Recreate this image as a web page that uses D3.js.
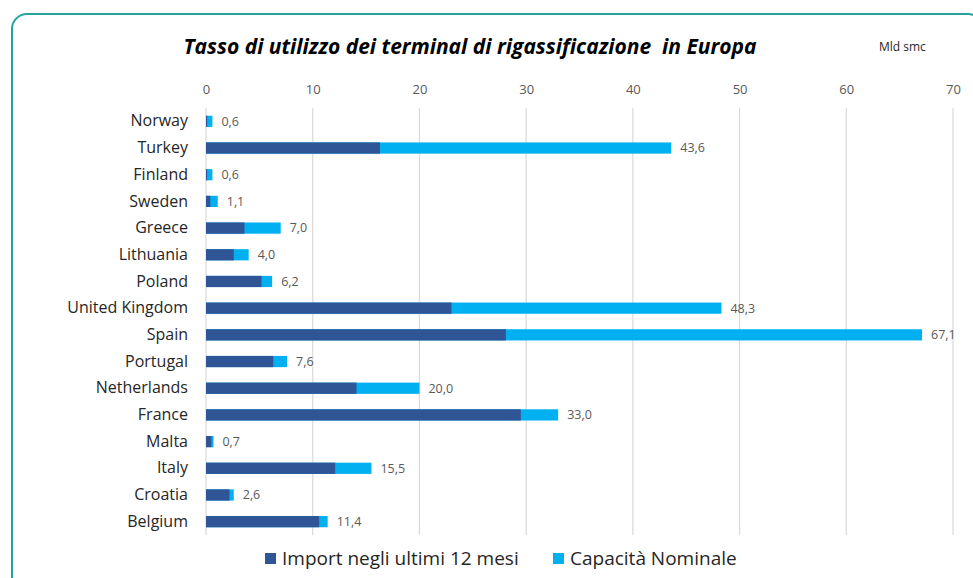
<!DOCTYPE html>
<html><head><meta charset="utf-8">
<script src="https://cdn.jsdelivr.net/npm/d3@7"></script>
<style>
body{margin:0;background:#fff;}
svg{display:block;font-family:"Open Sans",sans-serif;}
</style></head>
<body><svg id="c" width="973" height="578"></svg>
<script>
const categories = ["Norway","Turkey","Finland","Sweden","Greece","Lithuania","Poland","United Kingdom","Spain","Portugal","Netherlands","France","Malta","Italy","Croatia","Belgium"];
const capacity = [0.6,43.6,0.6,1.1,7.0,4.0,6.2,48.3,67.1,7.6,20.0,33.0,0.7,15.5,2.6,11.4];
const imports = [0.1,16.3,0.1,0.4,3.6,2.6,5.2,23.0,28.1,6.3,14.1,29.5,0.5,12.1,2.2,10.6];
const xTicks = [0,10,20,30,40,50,60,70];
const seriesNames = ["Import negli ultimi 12 mesi","Capacità Nominale"];
const title = "Tasso di utilizzo dei terminal di rigassificazione  in Europa";
const unit = "Mld smc";

const svg = d3.select("#c");
const dark = "#2f5597", light = "#00b0f0";

svg.append("rect").attr("x",12).attr("y",14).attr("width",971).attr("height",580)
  .attr("rx",15).attr("fill","none").attr("stroke","#23a39c").attr("stroke-width",2);

const x = d3.scaleLinear().domain([0,70]).range([206,953]);
const y = d3.scaleBand().domain(categories).range([108,535]).paddingInner(0.58).paddingOuter(0.29);

// grid
svg.append("g").selectAll("line").data(xTicks).join("line")
  .attr("x1",d=>x(d)).attr("x2",d=>x(d)).attr("y1",108).attr("y2",535)
  .attr("stroke","#d9d9d9").attr("stroke-width",1.2);

// top axis labels
const ax = svg.append("g").attr("transform","translate(0,94)")
  .call(d3.axisTop(x).tickValues(xTicks).tickSize(0).tickPadding(0));
ax.select(".domain").remove();
ax.selectAll("text").attr("font-family","Open Sans").attr("font-size",13).attr("fill","#595959");

// y labels
const ay = svg.append("g").attr("transform","translate(188,0)")
  .call(d3.axisLeft(y).tickSize(0).tickPadding(0));
ay.select(".domain").remove();
ay.selectAll("text").attr("font-family","Open Sans").attr("font-size",16).attr("fill","#262626");

const bh = y.bandwidth();
svg.append("g").selectAll("rect").data(categories).join("rect")
  .attr("x",x(0)).attr("y",d=>y(d)).attr("height",bh)
  .attr("width",(d,i)=>x(capacity[i])-x(0)).attr("fill",light);
svg.append("g").selectAll("rect").data(categories).join("rect")
  .attr("x",x(0)).attr("y",d=>y(d)).attr("height",bh)
  .attr("width",(d,i)=>x(imports[i])-x(0)).attr("fill",dark);

const fmt = v => v.toFixed(1).replace(".",",");
svg.append("g").selectAll("text").data(categories).join("text")
  .attr("x",(d,i)=>x(capacity[i])+9).attr("y",d=>y(d)+bh/2).attr("dy","0.35em")
  .attr("font-size",12.5).attr("fill","#595959").text((d,i)=>fmt(capacity[i]));

svg.append("text").attr("x",470).attr("y",54).attr("text-anchor","middle")
  .attr("font-size",21).attr("font-weight","bold").attr("font-style","italic").attr("fill","#000")
  .style("white-space","pre").text(title);
svg.append("text").attr("x",879).attr("y",51).attr("font-size",12).attr("fill","#262626").text(unit);

// legend
const lg = svg.append("g");
const lx = [265,553];
seriesNames.forEach((n,i)=>{
  lg.append("rect").attr("x",lx[i]).attr("y",553).attr("width",11).attr("height",11).attr("fill",i?light:dark);
  lg.append("text").attr("x",lx[i]+17).attr("y",565).attr("font-size",19).attr("fill","#262626").text(n);
});
</script></body></html>
